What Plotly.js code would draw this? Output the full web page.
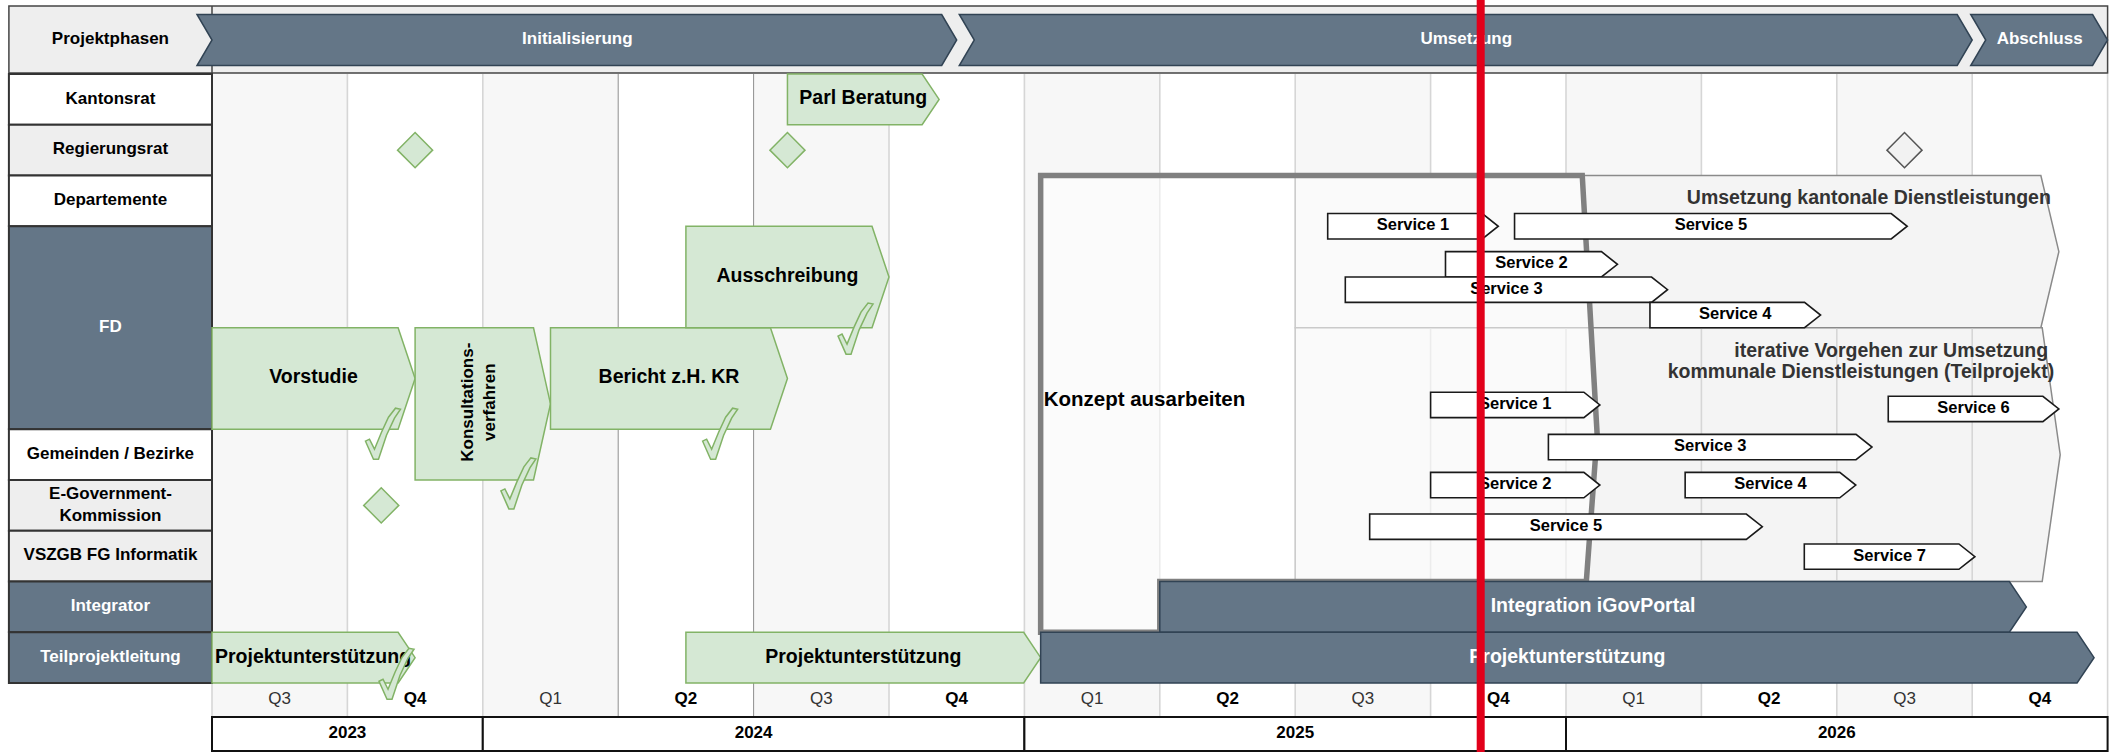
<!DOCTYPE html>
<html><head><meta charset="utf-8">
<script src="https://cdn.plot.ly/plotly-3.0.1.min.js"></script>
<style>html,body{margin:0;padding:0;background:#fff;}#chart{width:2114px;height:752px;}</style>
</head><body><div id="chart"></div>
<script>
// ---------------- DATA ----------------
const quarterLabels = ['Q3','Q4','Q1','Q2','Q3','Q4','Q1','Q2','Q3','Q4','Q1','Q2','Q3','Q4'];
const yearLabels = ['2023','2024','2025','2026'];
const quartersPerYear = [2,4,4,4];

const lanes = ['Kantonsrat','Regierungsrat','Departemente','FD','Gemeinden / Bezirke','E-Government-<br>Kommission','VSZGB FG Informatik','Integrator','Teilprojektleitung'];
const laneSpan = [1,1,1,4,1,1,1,1,1];
const laneTone = ['white','grey','white','slate','white','grey','grey','slate','slate'];

const phaseNames = ['Initialisierung','Umsetzung','Abschluss'];
const phaseFrom = [0, 5.63, 13.1];
const phaseTo = [5.5, 13.0, 14.0];

const greenNames = ['Parl Beratung','Vorstudie','Konsultations-<br>verfahren','Bericht z.H. KR','Ausschreibung','Projektunterstützung','Projektunterstützung'];
const greenFrom = [4.25, 0, 1.5, 2.5, 3.5, 0, 3.5];
const greenTo = [5.37, 1.5, 2.5, 4.25, 5.0, 1.5, 6.12];
const greenLaneTop = [0, 5, 5, 5, 3, 11, 11];
const greenLaneBottom = [1, 7, 8, 7, 5, 12, 12];

const slateNames = ['Integration iGovPortal','Projektunterstützung'];
const slateFrom = [7, 6.12];
const slateTo = [13.4, 13.9];
const slateLaneTop = [10, 11];
const slateLaneBottom = [11, 12];

const groupTitles = [['Umsetzung kantonale Dienstleistungen'], ['iterative Vorgehen zur Umsetzung','kommunale Dienstleistungen (Teilprojekt)']];
const groupFrom = [8, 8];
const groupTo = [13.64, 13.65];
const groupTop = [2, 5];
const groupBottom = [5, 10];

const konzeptName = 'Konzept ausarbeiten';
const konzeptFrom = 6.12;
const konzeptEdgeQ = [10.12, 10.23, 10.15];
const konzeptEdgeLane = [2, 7.1, 10];
const konzeptBottom = 11;
const konzeptNotch = 7;

const serviceNames = ['Service 1','Service 5','Service 2','Service 3','Service 4','Service 1','Service 6','Service 3','Service 2','Service 4','Service 5','Service 7'];
const serviceFrom = [8.24, 9.62, 9.11, 8.37, 10.62, 9.0, 12.38, 9.87, 9.0, 10.88, 8.55, 11.76];
const serviceTo   = [9.5, 12.52, 10.38, 10.75, 11.88, 10.25, 13.64, 12.26, 10.25, 12.14, 11.45, 13.02];
const serviceTop  = [2.75, 2.75, 3.5, 4.0, 4.5, 6.27, 6.35, 7.1, 7.85, 7.85, 8.67, 9.26];

const milestoneAt = [1.5, 4.25, 1.25, 12.5];
const milestoneLane = [1.5, 1.5, 8.5, 1.5];
const milestoneDone = [true, true, true, false];

const checkAt = [1.2, 2.2, 3.69, 4.69, 1.3];
const checkLane = [7.57, 8.55, 7.57, 5.5, 12.3];

const todayAt = 9.37;

// ---------------- LAYOUT HELPERS ----------------
const FONT = 'Liberation Sans, Arial, Helvetica, sans-serif';
const W = 2114, H = 752;
const PXQ = 135.4, X0 = 212, PXU = 50.75, Y0 = 74;
const dq = px => px / PXQ, du = px => px / PXU;
const xr = [-X0 / PXQ, (W - X0) / PXQ];
const yr = [(H - Y0) / PXU, -Y0 / PXU];
const LABEL_L = -1.5;
const quarterRowBottom = du(717 - Y0);
const yearRowBottom = du(751 - Y0);
const headTop = du(6 - Y0), headBottom = du(73 - Y0);
const chevTop = du(14.5 - Y0), chevBottom = du(65.5 - Y0);

const SLATE = '#647687', SLATE_LINE = '#314354';
const GREEN = '#d5e8d4', GREEN_LINE = '#82b366';
const GRID = '#d6d6d6';

const shapes = [], traces = [], annotations = [];
function rect(x0, y0, x1, y1, fill, line, lw, layer) {
  shapes.push({type:'rect', xref:'x', yref:'y', x0, y0, x1, y1, fillcolor:fill, line:{color:line, width:lw}, layer:layer || 'below'});
}
function path(d, fill, line, lw, layer) {
  shapes.push({type:'path', xref:'x', yref:'y', path:d, fillcolor:fill, line:{color:line, width:lw}, layer:layer || 'below'});
}
function seg(x0, y0, x1, y1, color, w, layer) {
  shapes.push({type:'line', xref:'x', yref:'y', x0, y0, x1, y1, line:{color, width:w}, layer:layer || 'below'});
}
function chevron(x0, x1, t, b, depthPx, notch) {
  const m = (t + b) / 2, d = dq(depthPx);
  if (notch) return `M${x0-d},${t}L${x1-d},${t}L${x1},${m}L${x1-d},${b}L${x0-d},${b}L${x0},${m}Z`;
  return `M${x0},${t}L${x1-d},${t}L${x1},${m}L${x1-d},${b}L${x0},${b}Z`;
}
function txt(x, y, text, size, color, weight, pos) {
  traces.push({type:'scatter', mode:'text', x:[x], y:[y], text:[text], textposition:pos || 'middle center',
    textfont:{family:FONT, size, color, weight: weight || 'bold'}, hoverinfo:'skip', showlegend:false, cliponaxis:false});
}

// ---------------- BACKGROUND GRID ----------------
quarterLabels.forEach((q, i) => {
  rect(i, 0, i + 1, quarterRowBottom, i % 2 === 0 ? '#f7f7f7' : '#ffffff', 'rgba(0,0,0,0)', 0);
});
for (let i = 0; i <= quarterLabels.length; i++) {
  const dark = (i === 3 || i === 4);
  seg(i, 0, i, quarterRowBottom, dark ? '#8f8f8f' : GRID, dark ? 1 : 1.6);
}
quarterLabels.forEach((q, i) => {
  const even = i % 2 === 1;
  txt(i + 0.5, (12 + quarterRowBottom) / 2, q, 17, even ? '#000' : '#333', even ? 'bold' : 'normal');
});
let qAcc = 0;
yearLabels.forEach((y, i) => {
  rect(qAcc, quarterRowBottom, qAcc + quartersPerYear[i], yearRowBottom, '#ffffff', '#111', 2);
  txt(qAcc + quartersPerYear[i] / 2, (quarterRowBottom + yearRowBottom) / 2, y, 17, '#000', 'bold');
  qAcc += quartersPerYear[i];
});

// ---------------- HEADER ----------------
rect(LABEL_L, headTop, quarterLabels.length, headBottom, '#eeeeee', '#444', 1.5);
seg(0, headTop, 0, headBottom, '#444', 1.5);
txt(LABEL_L / 2, (headTop + headBottom) / 2, 'Projektphasen', 17, '#000', 'bold');
phaseNames.forEach((p, i) => {
  path(chevron(phaseFrom[i], phaseTo[i], chevTop, chevBottom, 15, true), SLATE, SLATE_LINE, 1.5);
  txt((phaseFrom[i] + phaseTo[i]) / 2 - dq(7), (chevTop + chevBottom) / 2, p, 17, '#ffffff', 'bold');
});

// ---------------- LANE LABELS ----------------
let uAcc = 0;
lanes.forEach((l, i) => {
  const tone = laneTone[i];
  const fill = tone === 'slate' ? SLATE : (tone === 'grey' ? '#eeeeee' : '#ffffff');
  rect(LABEL_L, uAcc, 0, uAcc + laneSpan[i], fill, '#333', 2);
  txt(LABEL_L / 2, uAcc + laneSpan[i] / 2, l, 17, tone === 'slate' ? '#ffffff' : '#000', 'bold');
  uAcc += laneSpan[i];
});

// ---------------- GROUP CONTAINERS ----------------
groupTitles.forEach((g, i) => {
  path(chevron(groupFrom[i], groupTo[i], groupTop[i], groupBottom[i], 18, false), '#f4f4f4', '#8a8a8a', 1.5);
  if (i === 1) {
    // quarter grid shows through the second container
    for (let q = Math.ceil(groupFrom[i] + 0.01); q < groupTo[i] - 0.3; q++) {
      seg(q, groupTop[i] + du(1), q, groupBottom[i] - du(1), GRID, 1.6);
    }
  }
});
txt(groupTo[0] - dq(8), groupTop[0] + du(24), groupTitles[0][0], 19.5, '#333', 'bold', 'middle left');
txt(groupTo[1] - dq(12), groupTop[1] + du(24), groupTitles[1][0], 19.5, '#333', 'bold', 'middle left');
txt(groupTo[1] - dq(6), groupTop[1] + du(45), groupTitles[1][1], 19.5, '#333', 'bold', 'middle left');

// ---------------- KONZEPT BOX ----------------
const kp = `M${konzeptFrom},${konzeptEdgeLane[0]}L${konzeptEdgeQ[0]},${konzeptEdgeLane[0]}L${konzeptEdgeQ[1]},${konzeptEdgeLane[1]}L${konzeptEdgeQ[2]},${konzeptEdgeLane[2]}L${konzeptNotch},${konzeptEdgeLane[2]}L${konzeptNotch},${konzeptBottom}L${konzeptFrom},${konzeptBottom}Z`;
path(kp, 'rgba(255,255,255,0.55)', '#808080', 5.5);
txt(konzeptFrom + dq(3), (konzeptEdgeLane[0] + konzeptBottom) / 2 - du(3), konzeptName, 20.5, '#000', 'bold', 'middle right');

// ---------------- GREEN TASKS ----------------
greenNames.forEach((n, i) => {
  path(chevron(greenFrom[i], greenTo[i], greenLaneTop[i], greenLaneBottom[i], 17, false), GREEN, GREEN_LINE, 1.5);
  const cx = (greenFrom[i] + greenTo[i]) / 2, cy = (greenLaneTop[i] + greenLaneBottom[i]) / 2;
  if (n.indexOf('<br>') >= 0) {
    annotations.push({xref:'x', yref:'y', x:cx - dq(4), y:cy - du(2), text:n, showarrow:false, textangle:-90,
      font:{family:FONT, size:17, color:'#000', weight:'bold'}, align:'center'});
  } else if (greenFrom[i] === 0 && greenLaneTop[i] === 11) {
    txt(greenFrom[i] + dq(3), cy, n, 19.5, '#000', 'bold', 'middle right');
  } else {
    txt(cx, cy, n, 19.5, '#000', 'bold');
  }
});

// ---------------- SLATE TASKS ----------------
slateNames.forEach((n, i) => {
  path(chevron(slateFrom[i], slateTo[i], slateLaneTop[i], slateLaneBottom[i], 17, false), SLATE, SLATE_LINE, 1.5);
  txt((slateFrom[i] + slateTo[i]) / 2, (slateLaneTop[i] + slateLaneBottom[i]) / 2, n, 19.5, '#ffffff', 'bold');
});

// ---------------- SERVICES ----------------
const SERVICE_H = 0.5;
serviceNames.forEach((n, i) => {
  path(chevron(serviceFrom[i], serviceTo[i], serviceTop[i], serviceTop[i] + SERVICE_H, 16, false), '#ffffff', '#1a1a1a', 1.6);
  txt((serviceFrom[i] + serviceTo[i]) / 2, serviceTop[i] + SERVICE_H / 2, n, 16.5, '#000', 'bold');
});

// ---------------- MILESTONES ----------------
traces.push({type:'scatter', mode:'markers', x:milestoneAt, y:milestoneLane, hoverinfo:'skip', showlegend:false,
  marker:{symbol:'diamond', size:27, color:milestoneDone.map(d => d ? GREEN : '#f2f2f2'),
    line:{color:milestoneDone.map(d => d ? GREEN_LINE : '#555'), width:1.5}}});

// ---------------- CHECK MARKS ----------------
const checkPx = [[-9,-17],[-5,-19],[0,-9],[7,-26],[14,-41],[21,-50],[26,-49],[20,-40],[12,-23],[4,1],[-1,1]];
checkAt.forEach((q, i) => {
  const d = checkPx.map((p, k) => (k === 0 ? 'M' : 'L') + (q + dq(p[0])) + ',' + (checkLane[i] + du(p[1]))).join('') + 'Z';
  path(d, GREEN, GREEN_LINE, 1.5, 'above');
});

// ---------------- TODAY LINE ----------------
shapes.push({type:'line', xref:'x', yref:'paper', x0:todayAt, x1:todayAt, y0:0, y1:1, line:{color:'#e2001a', width:8}, layer:'above'});

const layout = {
  width: W, height: H,
  margin: {l:0, r:0, t:0, b:0, pad:0},
  paper_bgcolor: '#ffffff', plot_bgcolor: '#ffffff',
  showlegend: false,
  xaxis: {range: xr, visible:false, showgrid:false, zeroline:false, fixedrange:true},
  yaxis: {range: yr, visible:false, showgrid:false, zeroline:false, fixedrange:true},
  shapes, annotations,
  font: {family: FONT}
};
Plotly.newPlot('chart', traces, layout, {displayModeBar:false, staticPlot:true});
</script>
</body></html>
